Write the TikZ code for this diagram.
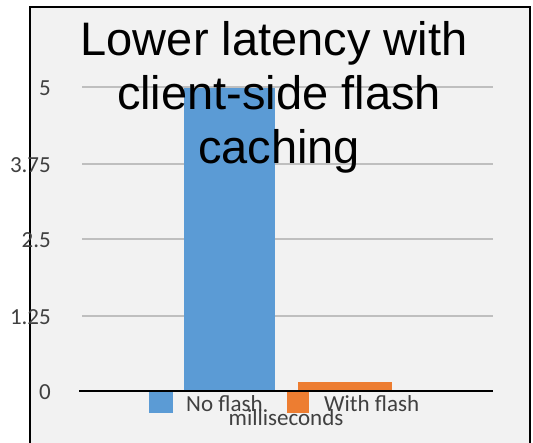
\documentclass[tikz,border=0pt]{standalone}
\usepackage{fontspec}
\setmainfont{Carlito}
\newfontfamily\titlefont{Liberation Sans}
\definecolor{panelbg}{HTML}{F2F2F2}
\definecolor{gridgray}{HTML}{BFBFBF}
\definecolor{barblue}{HTML}{5B9BD5}
\definecolor{barorange}{HTML}{ED7D31}
\definecolor{labelgray}{HTML}{404040}
\begin{document}
\begin{tikzpicture}[x=1pt,y=-1pt,
  gridline/.style={draw=gridgray,line width=2pt},
  ticklabel/.style={anchor=east,inner sep=0pt,text=labelgray,font=\fontsize{23}{27}\selectfont},
  legendtext/.style={anchor=base west,inner sep=0pt,text=labelgray,font=\fontsize{23}{27}\selectfont},
  titleline/.style={anchor=base,inner sep=0pt,text=black,font=\titlefont\fontsize{47}{54}\selectfont}]
\useasboundingbox (0,0) rectangle (533,442);
\fill[white] (0,0) rectangle (533,442);
% panel
\fill[panelbg] (30,7) rectangle (530,445);
\draw[black,line width=2pt] (30,450) -- (30,7) -- (530,7) -- (530,450);
% gridlines
\foreach \yy in {87,164,239,316} {\draw[gridline] (82,\yy) -- (493,\yy);}
% tick labels
\node[ticklabel] (t5) at (51,88) {5};
\node[ticklabel] (t375) at (51,165) {3.75};
\node[ticklabel] (t25) at (51,240) {2.5};
\node[ticklabel] (t125) at (51,317) {1.25};
\node[ticklabel] (t0) at (51,392) {0};
% bars
\fill[barblue] (184,88) rectangle (275,391);
\fill[barorange] (298,382) rectangle (392,391);
% axis
\draw[black,line width=2pt] (79,391) -- (493,391);
% legend
\fill[barblue] (149,392) rectangle (173,413);
\node[legendtext] (lno) at (186,411) {No flash};
\fill[barorange] (287,392) rectangle (309,413);
\node[legendtext] (lwith) at (324,411) {With flash};
\node[anchor=base,inner sep=0pt,text=labelgray,font=\fontsize{23}{27}\selectfont] (xlab) at (286,425) {milliseconds};
% title
\node[titleline] (ti1) at (274,55) {Lower latency with};
\node[titleline] (ti2) at (279,109) {client-side flash};
\node[titleline] (ti3) at (279,163) {caching};
\end{tikzpicture}
\end{document}
